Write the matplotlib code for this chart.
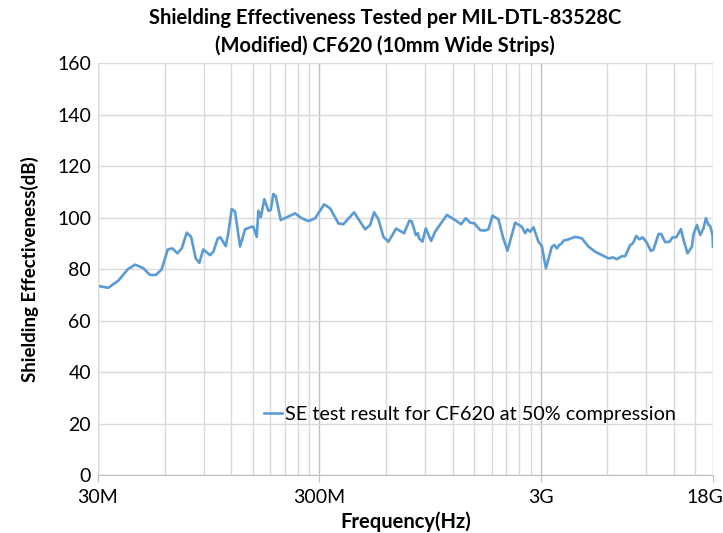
import numpy as np
import matplotlib
matplotlib.use("Agg")
import matplotlib.pyplot as plt
import matplotlib.transforms as mtransforms
from matplotlib.ticker import FixedLocator, NullFormatter

plt.rcParams['font.family'] = ['Lato', 'DejaVu Sans']

# frequency in MHz, shielding effectiveness in dB
freq_mhz = [30.1, 33.4, 37.1, 40.9, 44.1, 48.1, 51.5, 54.9, 58.2, 62.0,
            65.0, 68.5, 71.7, 75.5, 79.0, 82.9, 86.1, 89.7, 96.2, 99.6,
            104.3, 107.1, 113.3, 116.4, 120.6, 124.8, 131.5, 138.5, 148.5, 151.0,
            156.4, 159.1, 163.1, 169.3, 176.5, 181.0, 185.9, 190.6, 200.8, 213.7,
            233.0, 249.8, 267.6, 286.9, 315.1, 335.4, 365.7, 385.2, 430.5, 458.3,
            482.8, 508.6, 530.2, 554.4, 583.9, 615.1, 666.5, 724.2, 765.2, 784.7,
            818.1, 835.2, 846.6, 876.3, 907.8, 959.1, 999.9, 1129.5, 1231.5, 1310.7,
            1376.1, 1439.1, 1504.8, 1596.9, 1670.1, 1741, 1815, 1932.6, 2023, 2122,
            2299, 2464, 2551, 2612, 2687, 2781, 2929, 3035, 3166, 3367,
            3459, 3548, 3634, 3737, 3799, 4002, 4291, 4601, 4930, 5286,
            5667, 6070, 6355, 6625, 6979, 7222, 7606, 7823, 8097, 8379,
            8646, 8985, 9435, 9693, 10212, 10503, 10950, 11449, 11812, 12277,
            12891, 13244, 13808, 14454, 14695, 15225, 15755, 16305, 16716, 17175,
            17483, 17900, 18000]
se_db = [73.4, 72.7, 75.5, 79.9, 81.7, 80.3, 77.7, 77.7, 79.9, 87.6,
         88.0, 86.1, 88.0, 94.1, 92.5, 84.1, 82.4, 87.6, 85.4, 86.7,
         91.9, 92.3, 88.9, 93.9, 103.3, 102.3, 88.7, 95.4, 96.4, 96.4,
         92.5, 102.6, 100.1, 107.1, 102.6, 102.9, 109.1, 108.3, 99.0, 100.1,
         101.6, 99.7, 98.6, 99.7, 105.1, 103.6, 97.7, 97.4, 102.0, 98.4,
         95.4, 97.1, 102.0, 99.3, 92.5, 90.6, 95.7, 93.9, 98.8, 98.4,
         93.2, 93.9, 91.9, 90.6, 95.8, 90.9, 94.5, 101.0, 99.0, 97.4,
         99.7, 98.0, 97.7, 95.1, 94.9, 95.4, 100.7, 99.3, 92.5, 87.1,
         98.0, 96.4, 93.9, 95.4, 94.5, 96.2, 90.6, 88.9, 80.3, 88.7,
         89.3, 88.0, 89.3, 90.0, 91.0, 91.5, 92.5, 91.9, 88.7, 86.7,
         85.4, 84.1, 84.5, 83.8, 85.0, 85.0, 89.3, 90.0, 92.8, 91.5,
         92.3, 90.6, 87.0, 87.6, 93.6, 93.6, 90.4, 90.6, 92.3, 92.3,
         95.5, 91.3, 86.1, 88.7, 93.5, 97.1, 93.2, 95.8, 99.7, 97.1,
         96.7, 93.2, 88.7]

tick_hz = [30e6, 300e6, 3e9, 18e9]
tick_labels = ['30M', '300M', '3G', '18G']

freq_hz = np.array(freq_mhz) * 1e6

fig = plt.figure(figsize=(7.23, 5.33), dpi=100)
ax = fig.add_axes([0.1355, 0.1088, 0.8507, 0.773])

ax.plot(freq_hz, se_db, color='#5B9BD5', lw=1.9,
        label='SE test result for CF620 at 50% compression')

ax.set_xscale('log')
ax.set_xlim(30e6, 18e9)
ax.set_ylim(0, 160)
ax.set_yticks(range(0, 161, 20))

ax.xaxis.set_major_locator(FixedLocator(tick_hz))
ax.set_xticklabels(tick_labels)
minor = [m * d for d in (30e6, 300e6, 3e9) for m in range(2, 10) if m * d <= 18e9]
ax.xaxis.set_minor_locator(FixedLocator(minor))
ax.xaxis.set_minor_formatter(NullFormatter())

ax.grid(True, which='major', axis='y', color='#d9d9d9', lw=1)
ax.grid(True, which='major', axis='x', color='#bfbfbf', lw=1)
ax.grid(True, which='minor', axis='x', color='#d9d9d9', lw=1)
ax.set_axisbelow(True)

for s in ['top', 'right']:
    ax.spines[s].set_visible(False)
ax.spines['left'].set_color('#d9d9d9')
ax.spines['bottom'].set_color('#bfbfbf')

ax.tick_params(axis='y', length=0, labelsize=14, pad=5, colors='#000000')
ax.tick_params(axis='x', which='major', length=5, color='#bfbfbf',
               labelsize=14, pad=5)
ax.tick_params(axis='x', which='minor', length=0)

# nudge the last label (18G) left so it stays inside the figure
last = ax.get_xticklabels()[-1]
last.set_transform(last.get_transform() +
                   mtransforms.ScaledTranslation(-8 / 100, 0, fig.dpi_scale_trans))

ax.set_xlabel('Frequency(Hz)', fontsize=14.5, fontweight='bold', labelpad=4)
ax.set_ylabel('Shielding Effectiveness(dB)', fontsize=13.5, fontweight='bold', labelpad=13)

fig.text(0.532, 0.985, 'Shielding Effectiveness Tested per MIL-DTL-83528C\n'
         '(Modified) CF620 (10mm Wide Strips)', ha='center', va='top',
         fontsize=14.5, fontweight='bold', linespacing=1.45)

ax.legend(loc='center', bbox_to_anchor=(0.605, 0.148), frameon=False,
          fontsize=14.3, handlelength=0.9, handletextpad=0.15)

fig.savefig('out.png', dpi=100)
